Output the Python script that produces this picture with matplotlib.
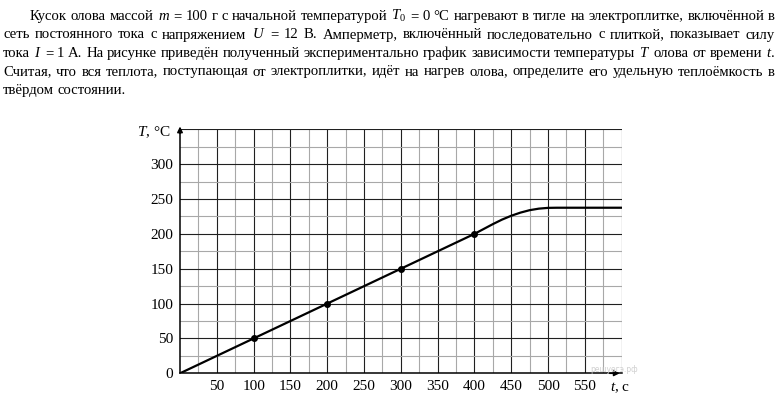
import numpy as np
import matplotlib
matplotlib.use('Agg')
import matplotlib.pyplot as plt
from matplotlib.transforms import IdentityTransform

plt.rcParams['font.family'] = ['Liberation Serif', 'DejaVu Serif']
plt.rcParams['mathtext.fontset'] = 'custom'
plt.rcParams['mathtext.rm'] = 'Liberation Serif'
plt.rcParams['mathtext.it'] = 'Liberation Serif:italic'

# heating curve of tin
time_s = [0, 100, 200, 300, 400, 412.5, 425, 437.5, 450, 462.5, 475, 487.5, 500, 512, 600]
temp_c = [0, 50, 100, 150, 200, 207, 214, 220.5, 226, 230.5, 234, 236.2, 237.3, 237.5, 237.5]
# marked points on the line
dot_t = [100, 200, 300, 400]
dot_T = [50, 100, 150, 200]

x_ticks = [50, 100, 150, 200, 250, 300, 350, 400, 450, 500, 550]
y_ticks = [0, 50, 100, 150, 200, 250, 300]

# problem text, one entry per printed line; $..$ marks italic symbols
text_lines = [
    'Кусок олова массой $m$ = 100 г с начальной температурой $T_0$ = 0 °С нагревают в тигле на электроплитке, включённой в',
    'сеть постоянного тока с напряжением $U$ = 12 В. Амперметр, включённый последовательно с плиткой, показывает силу',
    'тока $I$ = 1 А. На рисунке приведён полученный экспериментально график зависимости температуры $T$ олова от времени $t$.',
    'Считая, что вся теплота, поступающая от электроплитки, идёт на нагрев олова, определите его удельную теплоёмкость в',
    'твёрдом состоянии.',
]

TEXT_SIZE = 10.6
W, H = 780, 400

fig = plt.figure(figsize=(7.8, 4), dpi=100)
renderer = fig.canvas.get_renderer()


def put_line(line, y_top, x_left, x_right, justify):
    # draw one line of the paragraph, word by word, stretched to the margins
    words = line.split(' ')
    items = [fig.text(0, 0, w, fontsize=TEXT_SIZE, transform=IdentityTransform(),
                      va='baseline', ha='left') for w in words]
    widths = [t.get_window_extent(renderer).width for t in items]
    if justify:
        gap = (x_right - x_left - sum(widths)) / (len(words) - 1)
    else:
        gap = TEXT_SIZE * 100 / 72 * 0.25
    x = x_left
    for t, w in zip(items, widths):
        t.set_position((x, H - y_top))
        x += w + gap


for i, line in enumerate(text_lines):
    x0 = 30 if i == 0 else 3
    put_line(line, 20 + i * 18.5, x0, 775, i < len(text_lines) - 1)

ax = fig.add_axes([180 / W, 26.7 / H, 441.7 / W, 244 / H])
ax.set_xlim(0, 600)
ax.set_ylim(0, 350)

# squared paper: dark every 50, light every 25
for v in np.arange(25, 601, 25):
    ax.axvline(v, color='#202020' if v % 50 == 0 else '#a8a8a8', lw=0.8, zorder=1)
for v in np.arange(25, 351, 25):
    ax.axhline(v, color='#202020' if v % 50 == 0 else '#a8a8a8', lw=0.8, zorder=1)

for s in ['top', 'right']:
    ax.spines[s].set_visible(False)
for s in ['left', 'bottom']:
    ax.spines[s].set_linewidth(1.1)
    ax.spines[s].set_zorder(3)

ax.plot(time_s, temp_c, color='black', lw=1.6, zorder=4, solid_capstyle='round')
ax.plot(dot_t, dot_T, 'o', color='black', ms=4, zorder=5)

ax.set_xticks(x_ticks)
ax.set_yticks(y_ticks)
ax.tick_params(length=0, labelsize=11, pad=5)

# axis arrows
ax.annotate('', xy=(0, 358), xytext=(0, 340),
            arrowprops=dict(arrowstyle='-|>', color='black', lw=1.1, mutation_scale=8),
            annotation_clip=False)
ax.annotate('', xy=(601, 0), xytext=(580, 0),
            arrowprops=dict(arrowstyle='-|>', color='black', lw=1.1, mutation_scale=8),
            annotation_clip=False)

ax.annotate('$T$, °C', xy=(0, 346), xytext=(-7, 0), textcoords='offset points',
            ha='right', va='center', fontsize=11, annotation_clip=False)
ax.annotate('$t$, c', xy=(598, 0), xytext=(0, -5), textcoords='offset points',
            ha='center', va='top', fontsize=11, annotation_clip=False)
ax.annotate('решуегэ.рф', xy=(590, 0), xytext=(0, 3), textcoords='offset points',
            ha='center', va='center', fontsize=5.5, color='#d0d0d0',
            family='DejaVu Sans', annotation_clip=False, zorder=6)

fig.savefig('out.png', dpi=100)
